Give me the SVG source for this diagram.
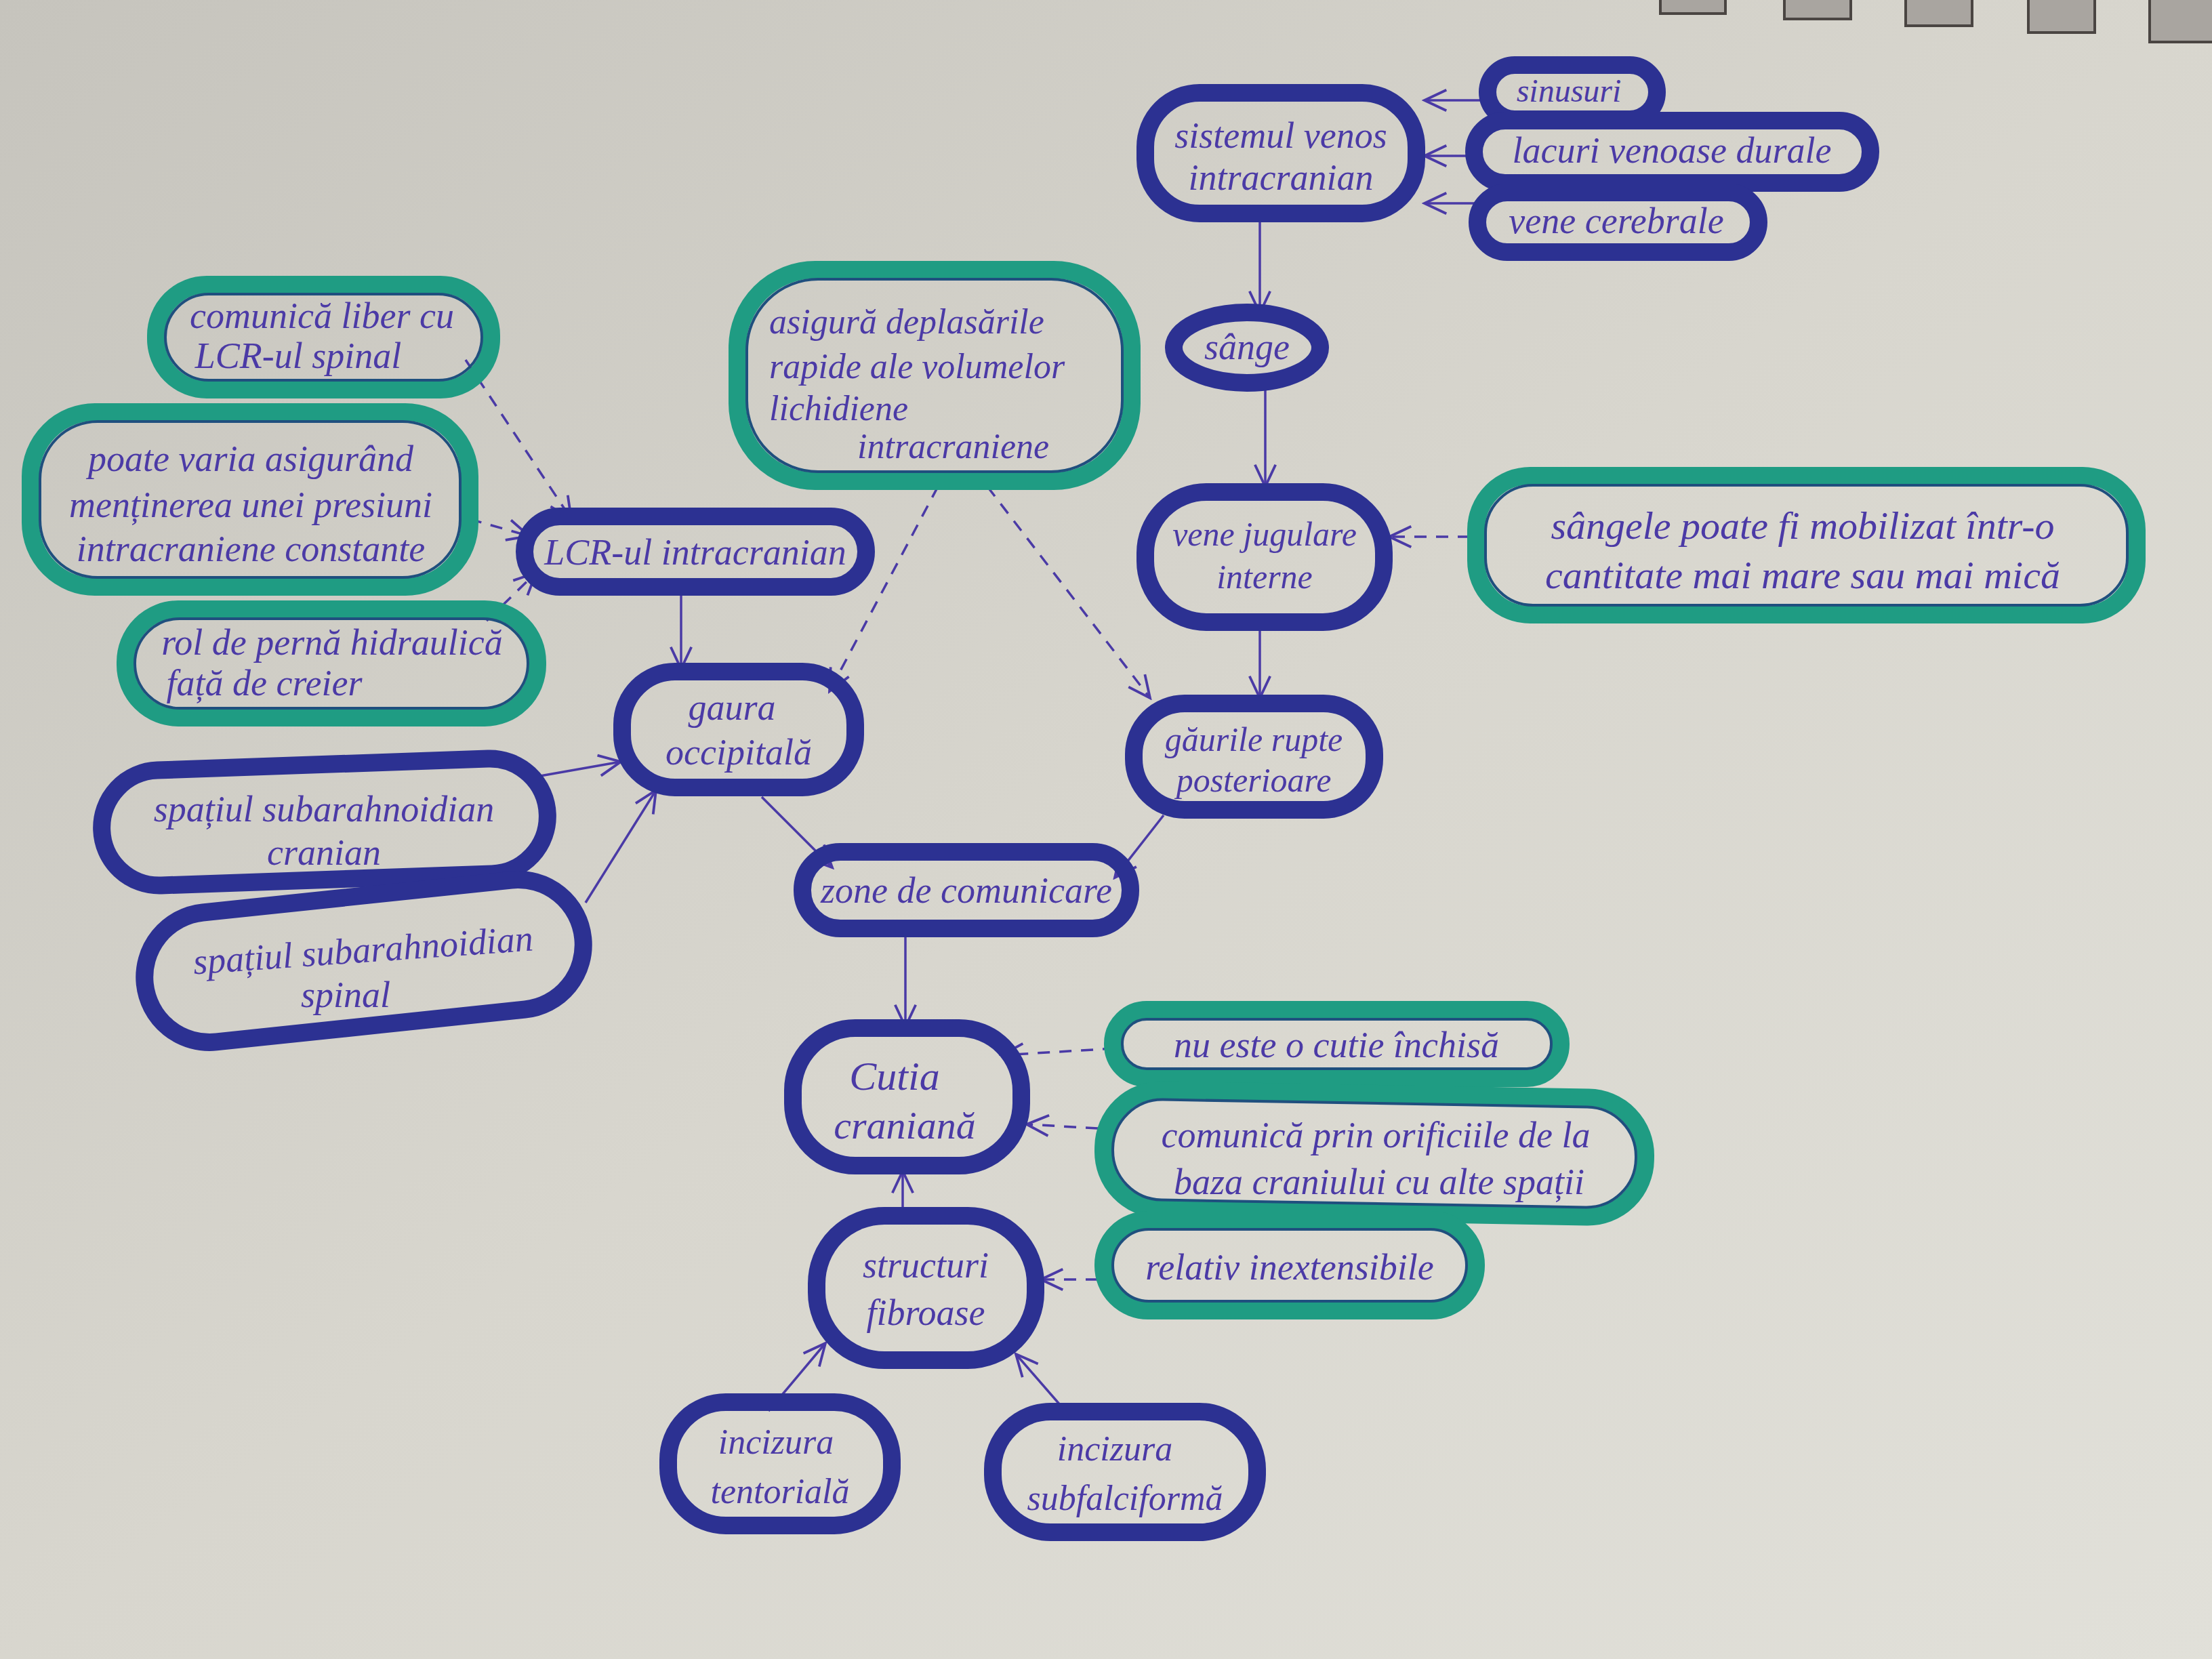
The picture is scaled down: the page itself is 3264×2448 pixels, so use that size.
<svg xmlns="http://www.w3.org/2000/svg" width="3264" height="2448" viewBox="0 0 3264 2448">
<defs>
<linearGradient id="paper" x1="0" y1="0" x2="1" y2="1">
<stop offset="0" stop-color="#c6c4bd"/>
<stop offset="0.5" stop-color="#d8d6ce"/>
<stop offset="1" stop-color="#e1e0d9"/>
</linearGradient>
<marker id="arr" viewBox="0 0 20 20" refX="18" refY="10" markerWidth="38" markerHeight="38" markerUnits="userSpaceOnUse" orient="auto">
<path d="M1,2 L18,10 L1,18" fill="none" stroke="#4a3aa6" stroke-width="2"/>
</marker>
<style>
.b{fill:none;stroke:#2c3192;stroke-width:26;stroke-linejoin:round}
.g{fill:none;stroke:#1f9c83;stroke-width:26;stroke-linejoin:round}
.gi{fill:none;stroke:#1f4f7e;stroke-width:4}
.t{font-family:"Liberation Serif",serif;font-style:italic;fill:#4b3aa6;font-size:54px;text-anchor:middle}
.l{text-anchor:start}
.c{fill:none;stroke:#4a3aa6;stroke-width:3.5;marker-end:url(#arr)}
.d{stroke-dasharray:18 14}
.perf{fill:#a9a5a0;stroke:#4a4542;stroke-width:4}
</style>
</defs>
<rect x="0" y="0" width="3264" height="2448" fill="url(#paper)"/>
<g id="perforations">
<rect class="perf" x="2450" y="-10" width="96" height="30"/>
<rect class="perf" x="2633" y="-10" width="98" height="38"/>
<rect class="perf" x="2812" y="-10" width="98" height="48"/>
<rect class="perf" x="2993" y="-10" width="98" height="58"/>
<rect class="perf" x="3172" y="-10" width="100" height="72"/>
</g>

<g id="connectors">
<line class="c" x1="2196" y1="148" x2="2102" y2="148"/>
<line class="c" x1="2178" y1="230" x2="2102" y2="230"/>
<line class="c" x1="2182" y1="300" x2="2102" y2="300"/>
<line class="c" x1="1859" y1="323" x2="1859" y2="462"/>
<line class="c" x1="1867" y1="572" x2="1867" y2="718"/>
<line class="c d" x1="2169" y1="792" x2="2050" y2="792"/>
<line class="c" x1="1859" y1="926" x2="1859" y2="1030"/>
<line class="c d" x1="1457" y1="718" x2="1697" y2="1030"/>
<line class="c d" x1="1384" y1="718" x2="1224" y2="1020"/>
<line class="c d" x1="687" y1="531" x2="843" y2="766"/>
<line class="c d" x1="693" y1="766" x2="781" y2="791"/>
<line class="c d" x1="718" y1="916" x2="791" y2="845"/>
<line class="c" x1="1005" y1="874" x2="1005" y2="987"/>
<line class="c" x1="797" y1="1145" x2="916" y2="1124"/>
<line class="c" x1="864" y1="1332" x2="968" y2="1166"/>
<line class="c" x1="1124" y1="1176" x2="1228" y2="1280"/>
<line class="c" x1="1717" y1="1203" x2="1645" y2="1295"/>
<line class="c" x1="1336" y1="1378" x2="1336" y2="1515"/>
<line class="c d" x1="1645" y1="1547" x2="1478" y2="1557"/>
<line class="c d" x1="1620" y1="1665" x2="1515" y2="1659"/>
<line class="c" x1="1332" y1="1786" x2="1332" y2="1728"/>
<line class="c d" x1="1620" y1="1888" x2="1536" y2="1888"/>
<line class="c" x1="1134" y1="2082" x2="1218" y2="1982"/>
<line class="c" x1="1572" y1="2082" x2="1499" y2="1998"/>
</g>

<g id="n-sistemul-venos">
<rect class="b" x="1690" y="137" width="400" height="178" rx="80"/>
<text class="t" x="1890" y="218">sistemul venos</text>
<text class="t" x="1890" y="280">intracranian</text>
</g>
<g id="n-sinusuri">
<rect class="b" x="2195" y="96" width="250" height="80" rx="40"/>
<text class="t" x="2315" y="150" style="font-size:48px">sinusuri</text>
</g>
<g id="n-lacuri">
<rect class="b" x="2175" y="178" width="585" height="92" rx="46"/>
<text class="t" x="2467" y="240">lacuri venoase durale</text>
</g>
<g id="n-vene-cerebrale">
<rect class="b" x="2180" y="284" width="415" height="88" rx="44"/>
<text class="t" x="2385" y="344">vene cerebrale</text>
</g>
<g id="n-sange">
<ellipse class="b" cx="1840" cy="513" rx="108" ry="52"/>
<text class="t" x="1840" y="530">sânge</text>
</g>
<g id="n-vene-jugulare">
<rect class="b" x="1690" y="726" width="352" height="192" rx="90"/>
<text class="t" x="1866" y="805" style="font-size:50px">vene jugulare</text>
<text class="t" x="1866" y="868" style="font-size:50px">interne</text>
</g>
<g id="g-sangele">
<rect class="g" x="2178" y="702" width="975" height="205" rx="80"/>
<rect class="gi" x="2192" y="716" width="947" height="177" rx="70"/>
<text class="t" x="2660" y="795" style="font-size:58px">sângele poate fi mobilizat într-o</text>
<text class="t" x="2660" y="868" style="font-size:58px">cantitate mai mare sau mai mică</text>
</g>
<g id="n-gaurile-rupte">
<rect class="b" x="1673" y="1038" width="355" height="157" rx="75"/>
<text class="t" x="1850" y="1108" style="font-size:50px">găurile rupte</text>
<text class="t" x="1850" y="1168" style="font-size:50px">posterioare</text>
</g>
<g id="g-asigura">
<rect class="g" x="1088" y="398" width="582" height="312" rx="115"/>
<rect class="gi" x="1102" y="412" width="554" height="284" rx="105"/>
<text class="t l" x="1135" y="492" style="font-size:52px">asigură deplasările</text>
<text class="t l" x="1135" y="558" style="font-size:52px">rapide ale volumelor</text>
<text class="t l" x="1135" y="620" style="font-size:52px">lichidiene</text>
<text class="t l" x="1265" y="676" style="font-size:52px">intracraniene</text>
</g>
<g id="n-lcr">
<rect class="b" x="774" y="762" width="504" height="104" rx="52"/>
<text class="t" x="1026" y="833">LCR-ul intracranian</text>
</g>
<g id="g-comunica-liber">
<rect class="g" x="230" y="420" width="495" height="155" rx="75"/>
<rect class="gi" x="244" y="434" width="467" height="127" rx="64"/>
<text class="t" x="475" y="484">comunică liber cu</text>
<text class="t" x="440" y="543">LCR-ul spinal</text>
</g>
<g id="g-poate-varia">
<rect class="g" x="45" y="608" width="648" height="258" rx="95"/>
<rect class="gi" x="59" y="622" width="620" height="230" rx="85"/>
<text class="t" x="370" y="695">poate varia asigurând</text>
<text class="t" x="370" y="763">menținerea unei presiuni</text>
<text class="t" x="370" y="828">intracraniene constante</text>
</g>
<g id="g-perna">
<rect class="g" x="185" y="899" width="608" height="160" rx="78"/>
<rect class="gi" x="199" y="913" width="580" height="132" rx="66"/>
<text class="t" x="490" y="966">rol de pernă hidraulică</text>
<text class="t" x="390" y="1026">față de creier</text>
</g>
<g id="n-gaura-occipitala">
<rect class="b" x="918" y="991" width="344" height="171" rx="78"/>
<text class="t" x="1080" y="1062">gaura</text>
<text class="t" x="1090" y="1128">occipitală</text>
</g>
<g id="n-spatiul-cranian">
<rect class="b" x="150" y="1128" width="658" height="170" rx="85" transform="rotate(-2 479 1213)"/>
<text class="t" x="478" y="1212">spațiul subarahnoidian</text>
<text class="t" x="478" y="1276">cranian</text>
</g>
<g id="n-spatiul-spinal">
<rect class="b" x="212" y="1322" width="650" height="192" rx="96" transform="rotate(-6 537 1418)"/>
<text class="t" x="537" y="1420" transform="rotate(-4 537 1420)">spațiul subarahnoidian</text>
<text class="t" x="510" y="1486">spinal</text>
</g>
<g id="n-zone">
<rect class="b" x="1184" y="1257" width="484" height="113" rx="56"/>
<text class="t" x="1426" y="1332">zone de comunicare</text>
</g>
<g id="n-cutia">
<rect class="b" x="1170" y="1517" width="337" height="203" rx="92"/>
<text class="t" x="1320" y="1608" style="font-size:60px">Cutia</text>
<text class="t" x="1335" y="1680" style="font-size:58px">craniană</text>
</g>
<g id="g-nu-este">
<rect class="g" x="1642" y="1490" width="661" height="101" rx="50"/>
<rect class="gi" x="1656" y="1504" width="633" height="73" rx="36"/>
<text class="t" x="1972" y="1560">nu este o cutie închisă</text>
</g>
<g id="g-comunica-prin">
<rect class="g" x="1628" y="1614" width="800" height="176" rx="85" transform="rotate(1 2028 1702)"/>
<rect class="gi" x="1642" y="1628" width="772" height="148" rx="73" transform="rotate(1 2028 1702)"/>
<text class="t" x="2030" y="1693">comunică prin orificiile de la</text>
<text class="t" x="2035" y="1762">baza craniului cu alte spații</text>
</g>
<g id="n-structuri">
<rect class="b" x="1205" y="1794" width="323" height="213" rx="100"/>
<text class="t" x="1366" y="1885">structuri</text>
<text class="t" x="1366" y="1955">fibroase</text>
</g>
<g id="g-relativ">
<rect class="g" x="1628" y="1800" width="550" height="134" rx="66"/>
<rect class="gi" x="1642" y="1814" width="522" height="106" rx="53"/>
<text class="t" x="1903" y="1888">relativ inextensibile</text>
</g>
<g id="n-incizura-tentoriala">
<rect class="b" x="986" y="2069" width="330" height="182" rx="85"/>
<text class="t" x="1145" y="2145" style="font-size:52px">incizura</text>
<text class="t" x="1151" y="2218" style="font-size:52px">tentorială</text>
</g>
<g id="n-incizura-subfalciforma">
<rect class="b" x="1465" y="2083" width="390" height="178" rx="85"/>
<text class="t" x="1645" y="2155" style="font-size:52px">incizura</text>
<text class="t" x="1660" y="2228" style="font-size:52px">subfalciformă</text>
</g>
</svg>
